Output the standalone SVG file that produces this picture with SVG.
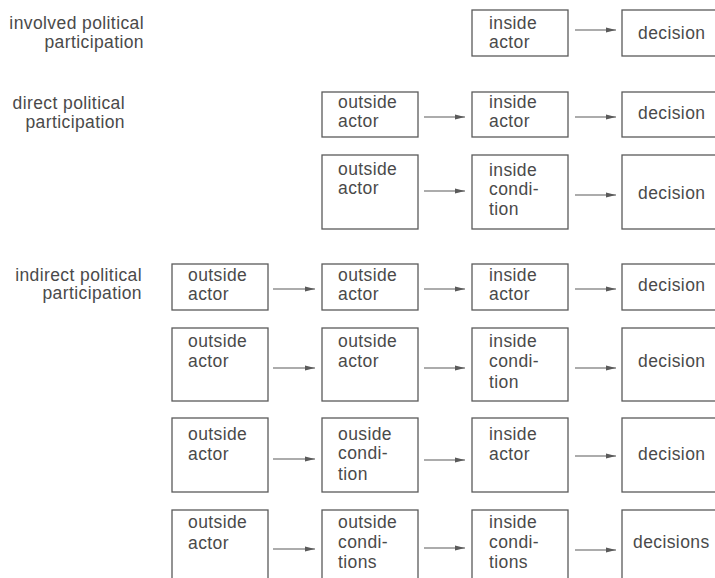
<svg xmlns="http://www.w3.org/2000/svg" width="715" height="578" viewBox="0 0 715 578">
  <style>
    .box { fill: #ffffff; stroke: #5a5a5a; stroke-width: 1.3; }
    .t { font-family: "Liberation Sans", Arial, sans-serif; font-size: 17.5px; letter-spacing: 0.4px; fill: #4a4a4a; }
    .lbl { text-anchor: end; }
    .arrow { stroke: #5a5a5a; stroke-width: 1.2; fill: none; marker-end: url(#head); }
  </style>
  <defs>
    <marker id="head" viewBox="0 0 10 6" refX="10" refY="3" markerWidth="10" markerHeight="6" markerUnits="userSpaceOnUse" orient="auto">
      <path d="M0,0.6 L10,3 L0,5.4 Z" fill="#5a5a5a"/>
    </marker>
  </defs>
  <rect width="715" height="578" fill="#ffffff"/>

  <!-- category labels -->
  <g id="label-involved">
    <text class="t lbl" x="144" y="29">involved political</text>
    <text class="t lbl" x="144" y="48">participation</text>
  </g>
  <g id="label-direct">
    <text class="t lbl" x="125" y="109">direct political</text>
    <text class="t lbl" x="125" y="128">participation</text>
  </g>
  <g id="label-indirect">
    <text class="t lbl" x="142" y="281">indirect political</text>
    <text class="t lbl" x="142" y="299">participation</text>
  </g>

  <!-- row 1: involved -->
  <g id="r1-inside-actor">
    <rect class="box" x="472" y="10" width="96" height="46"/>
    <text class="t" x="489" y="29">inside</text>
    <text class="t" x="489" y="48">actor</text>
  </g>
  <g id="r1-decision">
    <rect class="box" x="622" y="10" width="110" height="46"/>
    <text class="t" x="638" y="39">decision</text>
  </g>

  <!-- row 2: direct -->
  <g id="r2-outside-actor">
    <rect class="box" x="322" y="92" width="96" height="45"/>
    <text class="t" x="338" y="108">outside</text>
    <text class="t" x="338" y="127">actor</text>
  </g>
  <g id="r2-inside-actor">
    <rect class="box" x="472" y="92" width="96" height="45"/>
    <text class="t" x="489" y="108">inside</text>
    <text class="t" x="489" y="127">actor</text>
  </g>
  <g id="r2-decision">
    <rect class="box" x="622" y="92" width="110" height="45"/>
    <text class="t" x="638" y="119">decision</text>
  </g>

  <!-- row 3: direct -->
  <g id="r3-outside-actor">
    <rect class="box" x="322" y="155" width="96" height="74"/>
    <text class="t" x="338" y="175">outside</text>
    <text class="t" x="338" y="194">actor</text>
  </g>
  <g id="r3-inside-condition">
    <rect class="box" x="472" y="155" width="96" height="74"/>
    <text class="t" x="489" y="176">inside</text>
    <text class="t" x="489" y="195">condi-</text>
    <text class="t" x="489" y="215">tion</text>
  </g>
  <g id="r3-decision">
    <rect class="box" x="622" y="155" width="110" height="74"/>
    <text class="t" x="638" y="199">decision</text>
  </g>

  <!-- row 4: indirect -->
  <g id="r4-outside-actor-a">
    <rect class="box" x="172" y="264" width="96" height="46"/>
    <text class="t" x="188" y="281">outside</text>
    <text class="t" x="188" y="300">actor</text>
  </g>
  <g id="r4-outside-actor-b">
    <rect class="box" x="322" y="264" width="96" height="46"/>
    <text class="t" x="338" y="281">outside</text>
    <text class="t" x="338" y="300">actor</text>
  </g>
  <g id="r4-inside-actor">
    <rect class="box" x="472" y="264" width="96" height="46"/>
    <text class="t" x="489" y="281">inside</text>
    <text class="t" x="489" y="300">actor</text>
  </g>
  <g id="r4-decision">
    <rect class="box" x="622" y="264" width="110" height="46"/>
    <text class="t" x="638" y="291">decision</text>
  </g>

  <!-- row 5: indirect -->
  <g id="r5-outside-actor-a">
    <rect class="box" x="172" y="328" width="96" height="73"/>
    <text class="t" x="188" y="347">outside</text>
    <text class="t" x="188" y="367">actor</text>
  </g>
  <g id="r5-outside-actor-b">
    <rect class="box" x="322" y="328" width="96" height="73"/>
    <text class="t" x="338" y="347">outside</text>
    <text class="t" x="338" y="367">actor</text>
  </g>
  <g id="r5-inside-condition">
    <rect class="box" x="472" y="328" width="96" height="73"/>
    <text class="t" x="489" y="347">inside</text>
    <text class="t" x="489" y="367">condi-</text>
    <text class="t" x="489" y="388">tion</text>
  </g>
  <g id="r5-decision">
    <rect class="box" x="622" y="328" width="110" height="73"/>
    <text class="t" x="638" y="367">decision</text>
  </g>

  <!-- row 6: indirect -->
  <g id="r6-outside-actor">
    <rect class="box" x="172" y="418" width="96" height="74"/>
    <text class="t" x="188" y="440">outside</text>
    <text class="t" x="188" y="460">actor</text>
  </g>
  <g id="r6-outside-condition">
    <rect class="box" x="322" y="418" width="96" height="74"/>
    <text class="t" x="338" y="440">ouside</text>
    <text class="t" x="338" y="459">condi-</text>
    <text class="t" x="338" y="480">tion</text>
  </g>
  <g id="r6-inside-actor">
    <rect class="box" x="472" y="418" width="96" height="74"/>
    <text class="t" x="489" y="440">inside</text>
    <text class="t" x="489" y="460">actor</text>
  </g>
  <g id="r6-decision">
    <rect class="box" x="622" y="418" width="110" height="74"/>
    <text class="t" x="638" y="460">decision</text>
  </g>

  <!-- row 7: indirect -->
  <g id="r7-outside-actor">
    <rect class="box" x="172" y="510" width="96" height="90"/>
    <text class="t" x="188" y="528">outside</text>
    <text class="t" x="188" y="549">actor</text>
  </g>
  <g id="r7-outside-conditions">
    <rect class="box" x="322" y="510" width="96" height="90"/>
    <text class="t" x="338" y="528">outside</text>
    <text class="t" x="338" y="548">condi-</text>
    <text class="t" x="338" y="568">tions</text>
  </g>
  <g id="r7-inside-conditions">
    <rect class="box" x="472" y="510" width="96" height="90"/>
    <text class="t" x="489" y="528">inside</text>
    <text class="t" x="489" y="548">condi-</text>
    <text class="t" x="489" y="568">tions</text>
  </g>
  <g id="r7-decisions">
    <rect class="box" x="622" y="510" width="110" height="90"/>
    <text class="t" x="633" y="548">decisions</text>
  </g>

  <!-- connectors -->
  <g id="connectors">
    <line class="arrow" x1="575" y1="30" x2="616" y2="30"/>

    <line class="arrow" x1="424" y1="117" x2="465" y2="117"/>
    <line class="arrow" x1="575" y1="117" x2="616" y2="117"/>

    <line class="arrow" x1="424" y1="191" x2="465" y2="191"/>
    <line class="arrow" x1="575" y1="195" x2="616" y2="195"/>

    <line class="arrow" x1="273" y1="289" x2="315" y2="289"/>
    <line class="arrow" x1="424" y1="289" x2="465" y2="289"/>
    <line class="arrow" x1="575" y1="289" x2="616" y2="289"/>

    <line class="arrow" x1="273" y1="368" x2="315" y2="368"/>
    <line class="arrow" x1="424" y1="368" x2="465" y2="368"/>
    <line class="arrow" x1="575" y1="368" x2="616" y2="368"/>

    <line class="arrow" x1="273" y1="459" x2="315" y2="459"/>
    <line class="arrow" x1="424" y1="460" x2="465" y2="460"/>
    <line class="arrow" x1="575" y1="456" x2="616" y2="456"/>

    <line class="arrow" x1="273" y1="549" x2="315" y2="549"/>
    <line class="arrow" x1="424" y1="548" x2="465" y2="548"/>
    <line class="arrow" x1="575" y1="550" x2="616" y2="550"/>
  </g>
</svg>
